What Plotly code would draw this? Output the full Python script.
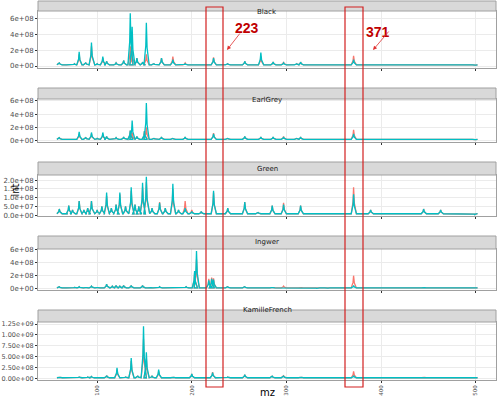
import plotly.graph_objects as go

W, H = 503, 406
panels = ["Black", "EarlGrey", "Green", "Ingwer", "KamilleFrench"]

black_mz = [60, 70, 76, 81, 88, 94, 100, 106, 110, 120, 128, 135, 137, 142, 148, 152, 160, 168, 180, 193, 205, 223, 238, 256, 273, 286, 297, 311, 315, 332, 343, 371, 389, 445, 463, 480, 499]
black_teal = [4e7, 1.5e7, 3e7, 1.8e8, 4e7, 3e8, 3e7, 1.2e8, 6e7, 4e7, 7e7, 6.7e8, 5e8, 1e8, 5e7, 5.5e8, 3e7, 1e8, 8e7, 3e7, 2e7, 1e8, 3e7, 6e7, 1.7e8, 5e7, 4e7, 3e7, 5e7, 1.5e7, 1.5e7, 8e7, 2e7, 2e7, 2e7, 1e7, 5e6]
black_red = [4e7, 1.5e7, 3e7, 1.5e8, 4e7, 2.5e8, 3e7, 1e8, 6e7, 4e7, 7e7, 2.5e8, 2e8, 1e8, 5e7, 1.5e8, 3e7, 1e8, 1.2e8, 4e7, 2e7, 1.1e8, 3e7, 6e7, 1.2e8, 5e7, 5e7, 3e7, 5e7, 1.5e7, 1.5e7, 1.3e8, 2e7, 2e7, 2e7, 1e7, 5e6]

earl_mz = [60, 70, 81, 88, 94, 100, 106, 110, 120, 128, 135, 137, 142, 150, 152, 160, 168, 180, 193, 205, 223, 238, 256, 273, 286, 297, 311, 315, 332, 343, 371, 389, 445, 463, 480, 499]
earl_teal = [4e7, 1.5e7, 1.3e8, 4e7, 1.2e8, 3e7, 1.2e8, 6e7, 4e7, 5e7, 1.5e8, 3e8, 6e7, 1.4e8, 5.7e8, 3e7, 5e7, 3e7, 5e7, 2e7, 1e8, 3e7, 6e7, 5e7, 5e7, 5e7, 3e7, 5e7, 1.5e7, 1.5e7, 1e8, 2e7, 2e7, 2e7, 1e7, 5e6]
earl_red = [4e7, 1.5e7, 1e8, 4e7, 1e8, 3e7, 1e8, 6e7, 4e7, 5e7, 1.5e8, 1.2e8, 6e7, 1.4e8, 2e8, 3e7, 5e7, 3e7, 5e7, 2e7, 1.1e8, 3e7, 6e7, 5e7, 5e7, 6e7, 3e7, 5e7, 1.5e7, 1.5e7, 1.6e8, 2e7, 2e7, 2e7, 1e7, 5e6]

green_mz = [60, 66, 70, 74, 81, 86, 90, 94, 100, 105, 110, 115, 120, 124, 130, 136, 140, 144, 148, 152, 158, 166, 172, 180, 186, 193, 200, 210, 223, 238, 256, 270, 285, 297, 315, 332, 343, 371, 389, 405, 445, 463, 480, 499]
green_teal = [3.5e7, 1e7, 5.5e7, 3e7, 8e7, 3e7, 4e7, 8e7, 3e7, 5e7, 1.3e8, 4e7, 6e7, 1.3e8, 5e7, 1.6e8, 6e7, 5e7, 1.85e8, 2.2e8, 4e7, 7e7, 4e7, 1.8e8, 3e7, 4e7, 2e7, 2e7, 1.4e8, 4e7, 7.5e7, 1.5e7, 5.5e7, 6e7, 5.5e7, 1e7, 1e7, 1.2e8, 3e7, 5e6, 3.5e7, 3e7, 1e7, 3e6]
green_red = [3.5e7, 1e7, 5.5e7, 3e7, 8e7, 3e7, 4e7, 8e7, 3e7, 5e7, 1.1e8, 4e7, 6e7, 1.2e8, 5e7, 1.4e8, 6e7, 5e7, 1.6e8, 1.9e8, 4e7, 7.5e7, 4e7, 1.5e8, 3e7, 8e7, 3e7, 2e7, 1.3e8, 4e7, 7.5e7, 1.5e7, 5.5e7, 7e7, 5.5e7, 1e7, 1e7, 1.6e8, 3e7, 5e6, 3.5e7, 3e7, 1e7, 3e6]

ing_mz = [60, 70, 76, 81, 88, 94, 100, 110, 116, 120, 124, 128, 136, 142, 148, 156, 166, 180, 194, 203, 205, 218, 221, 223, 238, 256, 270, 285, 297, 315, 332, 343, 371, 389, 445, 463, 499]
ing_teal = [3e7, 1e7, 2e7, 3e7, 2e7, 4e7, 2e7, 7e7, 4e7, 5e7, 4e7, 5e7, 5e7, 2e7, 5e7, 2e7, 3e7, 2e7, 3e7, 2.7e8, 5.8e8, 1.3e8, 1.5e8, 1.4e8, 3e7, 3e7, 1e7, 2e7, 2e7, 2e7, 5e6, 5e6, 5e7, 1e7, 2e7, 1e7, 3e6]
ing_red = [3e7, 1e7, 2e7, 3e7, 2e7, 4e7, 2e7, 7e7, 4e7, 5e7, 4e7, 5e7, 5e7, 2e7, 5e7, 2e7, 3e7, 2e7, 3e7, 2.5e8, 4.5e8, 1.5e8, 1.7e8, 1.6e8, 3e7, 3e7, 1e7, 2e7, 4e7, 2e7, 5e6, 5e6, 2e8, 1.5e7, 2.5e7, 1e7, 3e6]

kam_mz = [60, 76, 81, 90, 94, 110, 121, 130, 136, 143, 149, 152, 158, 165, 180, 200, 222, 238, 256, 285, 297, 315, 332, 371, 389, 445, 463, 499]
kam_teal = [3e7, 1e7, 3e7, 3e7, 4e7, 6e7, 2.4e8, 3e7, 4.7e8, 5e7, 1.2e9, 6e8, 5e7, 2e8, 3e7, 1e8, 1.3e8, 3e7, 8e7, 5e7, 5e7, 3e7, 5e6, 6e7, 2e7, 2e7, 1.5e7, 3e6]
kam_red = [3e7, 1e7, 3e7, 3e7, 4e7, 6e7, 2e8, 3e7, 4e8, 5e7, 9e8, 4.5e8, 5e7, 1.6e8, 3e7, 1e8, 1.4e8, 3e7, 8e7, 5e7, 6e7, 3e7, 5e6, 1.6e8, 2e7, 2.5e7, 1.5e7, 3e6]

baselines = [1.5e7, 1.5e7, 8e6, 1.2e7, 1.2e7]
data = [(black_mz, black_teal, black_red), (earl_mz, earl_teal, earl_red),
        (green_mz, green_teal, green_red), (ing_mz, ing_teal, ing_red),
        (kam_mz, kam_teal, kam_red)]
yticks = [[0, 2e8, 4e8, 6e8], [0, 2e8, 4e8, 6e8], [0, 5e7, 1e8, 1.5e8, 2e8],
          [0, 2e8, 4e8, 6e8], [0, 2.5e8, 5e8, 7.5e8, 1e9, 1.25e9]]
ytick_text = [["0e+00", "2e+08", "4e+08", "6e+08"], ["0e+00", "2e+08", "4e+08", "6e+08"],
              ["0.0e+00", "5.0e+07", "1.0e+08", "1.5e+08", "2.0e+08"],
              ["0e+00", "2e+08", "4e+08", "6e+08"],
              ["0.00e+00", "2.50e+08", "5.00e+08", "7.50e+08", "1.00e+09", "1.25e+09"]]
yranges = [(-2.5e7, 7.0e8), (-2.5e7, 6.3e8), (-5e6, 2.3e8), (-2e7, 6.1e8), (-4e7, 1.3e9)]
# (strip top, plot top, plot bottom) pixel rows
rows = [(1, 11, 68), (88, 99, 142), (162, 175, 216), (236, 249, 290), (310, 322, 380)]
xl, xr = 38, 496


def spectrum(mz, h, base):
    xs, ys = [], []
    for m, v in zip(mz, h):
        xs += [m - 2.5, m - 0.6, m, m + 0.8, m + 3]
        ys += [base, base + (v - base) * 0.45, v, base + (v - base) * 0.4, base]
    return xs, ys


fig = go.Figure()
layout = dict(width=W, height=H, margin=dict(l=0, r=0, t=0, b=0),
              paper_bgcolor="white", plot_bgcolor="white", showlegend=False,
              font=dict(family="DejaVu Sans", color="#4D4D4D"))
shapes, annos = [], []
for i, (name, (mz, teal, red)) in enumerate(zip(panels, data)):
    n = "" if i == 0 else str(i + 1)
    st, pt, pb = rows[i]
    for vals, col in ((red, "#F8766D"), (teal, "#00BFC4")):
        xs, ys = spectrum(mz, vals, baselines[i])
        fig.add_trace(go.Scatter(x=xs, y=ys, mode="lines", line=dict(color=col, width=1.3),
                                 xaxis="x" + n, yaxis="y" + n, hoverinfo="skip"))
    layout["xaxis" + n] = dict(domain=[xl / W, xr / W], range=[37.5, 521.5], anchor="y" + n,
                               tickvals=[100, 200, 300, 400, 500], showticklabels=(i == 4),
                               tickangle=-90, tickfont=dict(size=5.5, color="#4D4D4D"),
                               gridcolor="#EBEBEB", zeroline=False, ticks="outside",
                               ticklen=2, tickcolor="#333333", showline=True, linecolor="#A0A0A0",
                               mirror=True, automargin=False)
    layout["yaxis" + n] = dict(domain=[1 - pb / H, 1 - pt / H], range=list(yranges[i]),
                               anchor="x" + n, tickvals=yticks[i], ticktext=ytick_text[i],
                               tickfont=dict(size=7 if i != 4 else 6.5, color="#4D4D4D"),
                               gridcolor="#EBEBEB",
                               zeroline=False, ticks="outside", ticklen=2, tickcolor="#333333",
                               showline=True, linecolor="#A0A0A0", mirror=True, automargin=False)
    shapes.append(dict(type="rect", xref="paper", yref="paper", x0=xl / W, x1=xr / W,
                       y0=1 - pt / H, y1=1 - st / H, fillcolor="#D9D9D9",
                       line=dict(color="#A0A0A0", width=1)))
    annos.append(dict(text=name, xref="paper", yref="paper", x=(xl + xr) / 2 / W,
                      y=1 - (st + pt) / 2 / H, showarrow=False, font=dict(size=7, color="#1A1A1A")))

for x0, x1 in ((206, 223), (345, 363)):
    shapes.append(dict(type="rect", xref="paper", yref="paper", x0=x0 / W, x1=x1 / W,
                       y0=1 - 387 / H, y1=1 - 7 / H, line=dict(color="#D22020", width=1.2)))
annos += [
    dict(text="mz", xref="paper", yref="paper", x=267 / W, y=1 - 400 / H,
         showarrow=False, font=dict(size=10, color="#000000")),
    dict(text="<b>223</b>", xref="paper", yref="paper", x=247 / W, y=1 - 18 / H,
         showarrow=False, font=dict(size=14, color="#C00000", family="Liberation Sans")),
    dict(text="<b>371</b>", xref="paper", yref="paper", x=392 / W, y=1 - 22 / H,
         showarrow=False, font=dict(size=14, color="#C00000", family="Liberation Sans")),
    dict(text="", xref="paper", yref="paper", x=227 / W, y=1 - 50 / H, ax=14, ay=-18,
         showarrow=True, arrowhead=2, arrowsize=1, arrowwidth=0.8, arrowcolor="#E03030"),
    dict(text="", xref="paper", yref="paper", x=373 / W, y=1 - 50 / H, ax=17, ay=-20,
         showarrow=True, arrowhead=2, arrowsize=1, arrowwidth=0.8, arrowcolor="#E03030"),
    dict(text="int", xref="paper", yref="paper", x=7 / W, y=1 - 190 / H, textangle=-90,
         showarrow=False, font=dict(size=10, color="#000000")),
]
layout["shapes"] = shapes
layout["annotations"] = annos
fig.update_layout(**layout)
fig.write_html("out.html", config={"displayModeBar": False},
               post_script="document.body.style.margin='0';document.body.style.overflow='hidden';")
